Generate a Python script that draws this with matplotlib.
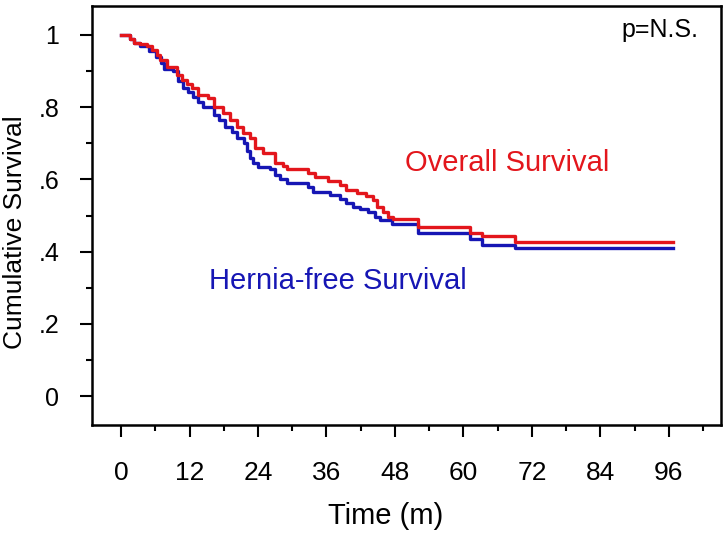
import numpy as np
import matplotlib
matplotlib.use("Agg")
import matplotlib.pyplot as plt

# Kaplan-Meier steps (time in months, survival after each step)
os_time = [0, 1.6, 2.2, 3.3, 4.5, 5.4, 6.3, 6.8, 8.0, 9.8, 10.6, 11.5, 12.4, 13.5,
           15.3, 16.2, 17.9, 19.1, 20.3, 21.4, 22.6, 23.5, 24.9, 27.0, 28.4, 29.0,
           32.8, 34.0, 36.3, 38.4, 39.5, 41.3, 43.0, 44.2, 44.8, 45.9, 46.8, 47.7,
           52.1, 61.2, 63.2, 69.0, 96.7]
os_surv = [1.0, 0.99, 0.977, 0.974, 0.968, 0.958, 0.945, 0.931, 0.91, 0.889, 0.875,
           0.863, 0.852, 0.834, 0.824, 0.80, 0.783, 0.765, 0.746, 0.728, 0.714, 0.687,
           0.673, 0.645, 0.637, 0.629, 0.617, 0.607, 0.596, 0.585, 0.571, 0.562, 0.554,
           0.543, 0.524, 0.51, 0.497, 0.489, 0.467, 0.451, 0.443, 0.426, 0.426]

hfs_time = [0, 1.6, 2.2, 3.3, 4.9, 6.1, 7.0, 7.6, 9.1, 9.9, 10.8, 11.7, 12.6, 13.5,
            14.4, 16.2, 17.1, 18.2, 19.4, 20.3, 21.5, 22.0, 22.6, 23.2, 24.0, 26.1,
            27.0, 27.8, 29.0, 32.8, 33.7, 36.6, 38.4, 39.5, 40.7, 41.9, 43.3, 44.5,
            45.4, 47.4, 52.1, 61.2, 63.2, 69.0, 96.7]
hfs_surv = [1.0, 0.99, 0.977, 0.968, 0.956, 0.94, 0.921, 0.906, 0.899, 0.873, 0.852,
            0.843, 0.829, 0.815, 0.801, 0.778, 0.765, 0.746, 0.732, 0.714, 0.70, 0.68,
            0.658, 0.645, 0.635, 0.629, 0.612, 0.60, 0.591, 0.58, 0.566, 0.557, 0.545,
            0.534, 0.523, 0.517, 0.51, 0.497, 0.488, 0.476, 0.452, 0.435, 0.418, 0.41,
            0.41]

x_ticks = np.arange(0, 97, 12)
y_ticks = [0, 0.2, 0.4, 0.6, 0.8, 1.0]
y_labels = ["0", ".2", ".4", ".6", ".8", "1"]

red = "#e3161c"
blue = "#1616b4"
plt.rcParams["font.family"] = ["Liberation Sans", "DejaVu Sans"]

fig = plt.figure(figsize=(7.28, 5.33), dpi=100)
ax = fig.add_axes([0.1264, 0.2026, 0.8636, 0.7861])

ax.step(hfs_time, hfs_surv, where="post", color=blue, lw=2.4)
ax.step(os_time, os_surv, where="post", color=red, lw=2.4)

ax.set_xlim(-5.1, 105.1)
ax.set_ylim(-0.08, 1.08)

ax.set_xticks(x_ticks)
ax.set_xticks(np.arange(6, 103, 12), minor=True)
ax.set_xticklabels([str(v) for v in x_ticks], fontsize=19)
ax.set_yticks(y_ticks)
ax.set_yticks(np.arange(0.1, 1.0, 0.2), minor=True)
ax.set_yticklabels(y_labels, fontsize=18)

ax.tick_params(which="major", direction="out", length=8.6, width=1.5)
ax.tick_params(which="minor", direction="out", length=4.3, width=1.5)
ax.tick_params(axis="x", which="major", pad=17)
ax.tick_params(axis="y", which="major", pad=15)
for s in ax.spines.values():
    s.set_linewidth(1.8)

ax.set_xlabel("Time (m)", fontsize=21)
ax.xaxis.set_label_coords(0.467, -0.184)
ax.set_ylabel("Cumulative Survival", fontsize=19)
ax.yaxis.set_label_coords(-0.103, 0.461)

ax.text(67.6, 0.645, "Overall Survival", color=red, fontsize=21, ha="center", va="center")
ax.text(38, 0.32, "Hernia-free Survival", color=blue, fontsize=21, ha="center", va="center")
ax.text(94.4, 1.014, "p=N.S.", color="black", fontsize=18, ha="center", va="center")

fig.savefig("out.png", dpi=100)
